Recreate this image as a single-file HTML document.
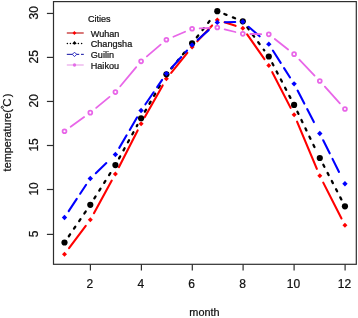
<!DOCTYPE html>
<html><head><meta charset="utf-8"><style>
html,body{margin:0;padding:0;background:#fff;width:358px;height:318px;overflow:hidden}
svg{display:block;font-family:"Liberation Sans",sans-serif;will-change:transform}
text{stroke:#111;stroke-width:0.22px;fill:#111}
</style></head><body>
<svg width="358" height="318" viewBox="0 0 358 318" font-family="Liberation Sans, sans-serif" fill="#1a1a1a">
<rect width="358" height="318" fill="#fff"/>
<rect x="53.5" y="1.6" width="302.80" height="262.70" fill="none" stroke="#2e2e2e" stroke-width="1.2"/><line x1="46.9" y1="13.45" x2="53.5" y2="13.45" stroke="#2e2e2e" stroke-width="1.2"/><text x="0" y="0" transform="translate(37.7 12.85) rotate(-90)" text-anchor="middle" font-size="12">30</text><line x1="46.9" y1="57.4" x2="53.5" y2="57.4" stroke="#2e2e2e" stroke-width="1.2"/><text x="0" y="0" transform="translate(37.7 56.80) rotate(-90)" text-anchor="middle" font-size="12">25</text><line x1="46.9" y1="101.45" x2="53.5" y2="101.45" stroke="#2e2e2e" stroke-width="1.2"/><text x="0" y="0" transform="translate(37.7 100.85) rotate(-90)" text-anchor="middle" font-size="12">20</text><line x1="46.9" y1="145.5" x2="53.5" y2="145.5" stroke="#2e2e2e" stroke-width="1.2"/><text x="0" y="0" transform="translate(37.7 144.90) rotate(-90)" text-anchor="middle" font-size="12">15</text><line x1="46.9" y1="189.5" x2="53.5" y2="189.5" stroke="#2e2e2e" stroke-width="1.2"/><text x="0" y="0" transform="translate(37.7 188.90) rotate(-90)" text-anchor="middle" font-size="12">10</text><line x1="46.9" y1="234.4" x2="53.5" y2="234.4" stroke="#2e2e2e" stroke-width="1.2"/><text x="0" y="0" transform="translate(37.7 233.80) rotate(-90)" text-anchor="middle" font-size="12">5</text><line x1="90.40" y1="264.3" x2="90.40" y2="270.6" stroke="#2e2e2e" stroke-width="1.2"/><text x="89.80" y="288.3" text-anchor="middle" font-size="12">2</text><line x1="141.40" y1="264.3" x2="141.40" y2="270.6" stroke="#2e2e2e" stroke-width="1.2"/><text x="140.80" y="288.3" text-anchor="middle" font-size="12">4</text><line x1="192.30" y1="264.3" x2="192.30" y2="270.6" stroke="#2e2e2e" stroke-width="1.2"/><text x="191.70" y="288.3" text-anchor="middle" font-size="12">6</text><line x1="243.10" y1="264.3" x2="243.10" y2="270.6" stroke="#2e2e2e" stroke-width="1.2"/><text x="242.50" y="288.3" text-anchor="middle" font-size="12">8</text><line x1="294.10" y1="264.3" x2="294.10" y2="270.6" stroke="#2e2e2e" stroke-width="1.2"/><text x="293.50" y="288.3" text-anchor="middle" font-size="12">10</text><line x1="345.10" y1="264.3" x2="345.10" y2="270.6" stroke="#2e2e2e" stroke-width="1.2"/><text x="344.50" y="288.3" text-anchor="middle" font-size="12">12</text><text x="204.5" y="315.7" text-anchor="middle" font-size="10.9">month</text><g transform="translate(10.6 171.4) rotate(-90)"><text x="0" y="0" font-size="10.9">temperature(</text><circle cx="64.1" cy="-8.3" r="1.1" fill="none" stroke="#111" stroke-width="0.95"/><text x="64.7" y="0.5" font-size="11.4">C</text><text x="74.1" y="0" font-size="10.9">)</text></g>
<g stroke="#ff0000" stroke-width="2.1" stroke-linecap="round" fill="none"><line x1="69.06" y1="248.17" x2="85.74" y2="225.93"/><line x1="93.95" y1="213.18" x2="111.75" y2="180.62"/><line x1="118.86" y1="167.18" x2="137.64" y2="130.42"/><line x1="144.83" y1="117.03" x2="162.67" y2="85.42"/><line x1="171.17" y1="72.88" x2="187.33" y2="52.82"/><line x1="197.29" y1="41.34" x2="212.11" y2="25.46"/><line x1="224.53" y1="22.24" x2="235.57" y2="25.81"/><line x1="247.15" y1="34.38" x2="264.45" y2="59.22"/><line x1="272.28" y1="72.21" x2="290.62" y2="107.89"/><line x1="297.04" y1="121.66" x2="316.86" y2="168.84"/><line x1="323.25" y1="182.62" x2="341.50" y2="218.48"/></g><g stroke="#000000" stroke-width="2.3" stroke-linecap="round" fill="none" stroke-dasharray="2.3 6.9"><line x1="68.79" y1="236.23" x2="86.01" y2="211.07"/><line x1="94.36" y1="198.37" x2="111.34" y2="171.48"/><line x1="119.06" y1="158.39" x2="137.44" y2="124.91"/><line x1="144.89" y1="111.66" x2="162.61" y2="80.89"/><line x1="171.25" y1="68.45" x2="187.25" y2="49.15"/><line x1="196.79" y1="37.32" x2="212.61" y2="17.18"/><line x1="224.37" y1="14.00" x2="235.73" y2="18.50"/><line x1="247.32" y1="27.41" x2="264.28" y2="50.39"/><line x1="272.32" y1="63.24" x2="290.58" y2="98.21"/><line x1="297.41" y1="111.79" x2="316.49" y2="151.16"/><line x1="323.31" y1="164.74" x2="341.44" y2="199.56"/></g><g stroke="#0000ff" stroke-width="2.1" stroke-linecap="round" fill="none" stroke-dasharray="14.6 6.2"><line x1="68.69" y1="211.11" x2="86.11" y2="184.79"/><line x1="95.79" y1="173.20" x2="109.91" y2="159.70"/><line x1="119.24" y1="147.89" x2="137.26" y2="117.11"/><line x1="145.39" y1="104.28" x2="162.11" y2="79.87"/><line x1="171.47" y1="67.94" x2="187.03" y2="50.56"/><line x1="197.77" y1="39.84" x2="211.63" y2="27.46"/><line x1="224.90" y1="22.22" x2="235.20" y2="21.98"/><line x1="248.56" y1="26.75" x2="263.04" y2="39.20"/><line x1="272.88" y1="50.56" x2="290.02" y2="77.44"/><line x1="297.60" y1="90.60" x2="316.30" y2="126.70"/><line x1="323.20" y1="140.25" x2="341.55" y2="177.00"/></g><g stroke="#e866e8" stroke-width="1.8" stroke-linecap="round" fill="none"><line x1="70.66" y1="126.81" x2="84.14" y2="117.09"/><line x1="96.18" y1="107.84" x2="109.52" y2="96.91"/><line x1="120.27" y1="86.27" x2="136.23" y2="67.18"/><line x1="146.88" y1="56.42" x2="160.62" y2="44.68"/><line x1="173.39" y1="36.76" x2="185.11" y2="31.74"/><line x1="199.69" y1="28.36" x2="209.71" y2="27.84"/><line x1="224.67" y1="29.30" x2="235.43" y2="32.00"/><line x1="250.40" y1="34.00" x2="261.20" y2="34.20"/><line x1="274.79" y1="39.03" x2="288.11" y2="49.47"/><line x1="299.36" y1="59.64" x2="314.54" y2="75.51"/><line x1="324.88" y1="86.65" x2="339.87" y2="103.35"/></g><g fill="#ff0000"><path d="M64.50 251.75L67.00 254.25L64.50 256.75L62.00 254.25Z"/><path d="M90.30 217.35L92.80 219.85L90.30 222.35L87.80 219.85Z"/><path d="M115.40 171.45L117.90 173.95L115.40 176.45L112.90 173.95Z"/><path d="M141.10 121.15L143.60 123.65L141.10 126.15L138.60 123.65Z"/><path d="M166.40 76.30L168.90 78.80L166.40 81.30L163.90 78.80Z"/><path d="M192.10 44.40L194.60 46.90L192.10 49.40L189.60 46.90Z"/><path d="M217.30 17.40L219.80 19.90L217.30 22.40L214.80 19.90Z"/><path d="M242.80 25.65L245.30 28.15L242.80 30.65L240.30 28.15Z"/><path d="M268.80 62.95L271.30 65.45L268.80 67.95L266.30 65.45Z"/><path d="M294.10 112.15L296.60 114.65L294.10 117.15L291.60 114.65Z"/><path d="M319.80 173.35L322.30 175.85L319.80 178.35L317.30 175.85Z"/><path d="M344.95 222.75L347.45 225.25L344.95 227.75L342.45 225.25Z"/></g><g fill="#000000"><circle cx="64.50" cy="242.50" r="3.1"/><circle cx="90.30" cy="204.80" r="3.1"/><circle cx="115.40" cy="165.05" r="3.1"/><circle cx="141.10" cy="118.25" r="3.1"/><circle cx="166.40" cy="74.30" r="3.1"/><circle cx="192.10" cy="43.30" r="3.1"/><circle cx="217.30" cy="11.20" r="3.1"/><circle cx="242.80" cy="21.30" r="3.1"/><circle cx="268.80" cy="56.50" r="3.1"/><circle cx="294.10" cy="104.95" r="3.1"/><circle cx="319.80" cy="158.00" r="3.1"/><circle cx="344.95" cy="206.30" r="3.1"/></g><g fill="#0000ff"><path d="M64.50 214.75L67.20 217.45L64.50 220.15L61.80 217.45Z"/><path d="M90.30 175.75L93.00 178.45L90.30 181.15L87.60 178.45Z"/><path d="M115.40 151.75L118.10 154.45L115.40 157.15L112.70 154.45Z"/><path d="M141.10 107.85L143.80 110.55L141.10 113.25L138.40 110.55Z"/><path d="M166.40 70.90L169.10 73.60L166.40 76.30L163.70 73.60Z"/><path d="M192.10 42.20L194.80 44.90L192.10 47.60L189.40 44.90Z"/><path d="M217.30 19.70L220.00 22.40L217.30 25.10L214.60 22.40Z"/><path d="M242.80 19.10L245.50 21.80L242.80 24.50L240.10 21.80Z"/><path d="M268.80 41.45L271.50 44.15L268.80 46.85L266.10 44.15Z"/><path d="M294.10 81.15L296.80 83.85L294.10 86.55L291.40 83.85Z"/><path d="M319.80 130.75L322.50 133.45L319.80 136.15L317.10 133.45Z"/><path d="M344.95 181.10L347.65 183.80L344.95 186.50L342.25 183.80Z"/></g><g fill="none" stroke="#e866e8" stroke-width="1.75"><circle cx="64.50" cy="131.25" r="1.95"/><circle cx="90.30" cy="112.65" r="1.95"/><circle cx="115.40" cy="92.10" r="1.95"/><circle cx="141.10" cy="61.35" r="1.95"/><circle cx="166.40" cy="39.75" r="1.95"/><circle cx="192.10" cy="28.75" r="1.95"/><circle cx="217.30" cy="27.45" r="1.95"/><circle cx="242.80" cy="33.85" r="1.95"/><circle cx="268.80" cy="34.35" r="1.95"/><circle cx="294.10" cy="54.15" r="1.95"/><circle cx="319.80" cy="81.00" r="1.95"/><circle cx="344.95" cy="109.00" r="1.95"/></g>
<text x="87.9" y="21.6" font-size="9.1">Cities</text><text x="90.75" y="36.60" font-size="9.1">Wuhan</text><text x="90.75" y="47.33" font-size="9.1">Changsha</text><text x="90.75" y="58.06" font-size="9.1">Guilin</text><text x="90.75" y="68.79" font-size="9.1">Haikou</text><line x1="66.8" y1="33" x2="83.7" y2="33" stroke="#d26060" stroke-width="1.7"/><path d="M74.4 30.9L76.3 33L74.4 35.1L72.5 33Z" fill="#f00"/><circle cx="67.4" cy="43.5" r="0.75" fill="#000"/><circle cx="70.4" cy="43.5" r="0.75" fill="#000"/><circle cx="78.4" cy="43.5" r="0.75" fill="#000"/><circle cx="81.6" cy="43.5" r="0.75" fill="#000"/><path d="M74.5 41.1L76.7 43.5L74.5 44.8L72.3 43.5Z" fill="#000"/><line x1="66.8" y1="54.4" x2="79.2" y2="54.4" stroke="#3434b0" stroke-width="1.2"/><line x1="81.0" y1="54.4" x2="83.8" y2="54.4" stroke="#3434b0" stroke-width="1.2"/><path d="M74.5 52.2L76.7 54.4L74.5 56.6L72.3 54.4Z" fill="#fff" stroke="#2020c0" stroke-width="0.9"/><line x1="66.8" y1="65" x2="83.7" y2="65" stroke="#ecb4ec" stroke-width="1.4"/><circle cx="74.5" cy="65" r="1.65" fill="#e46ce8"/>
</svg>
</body></html>
